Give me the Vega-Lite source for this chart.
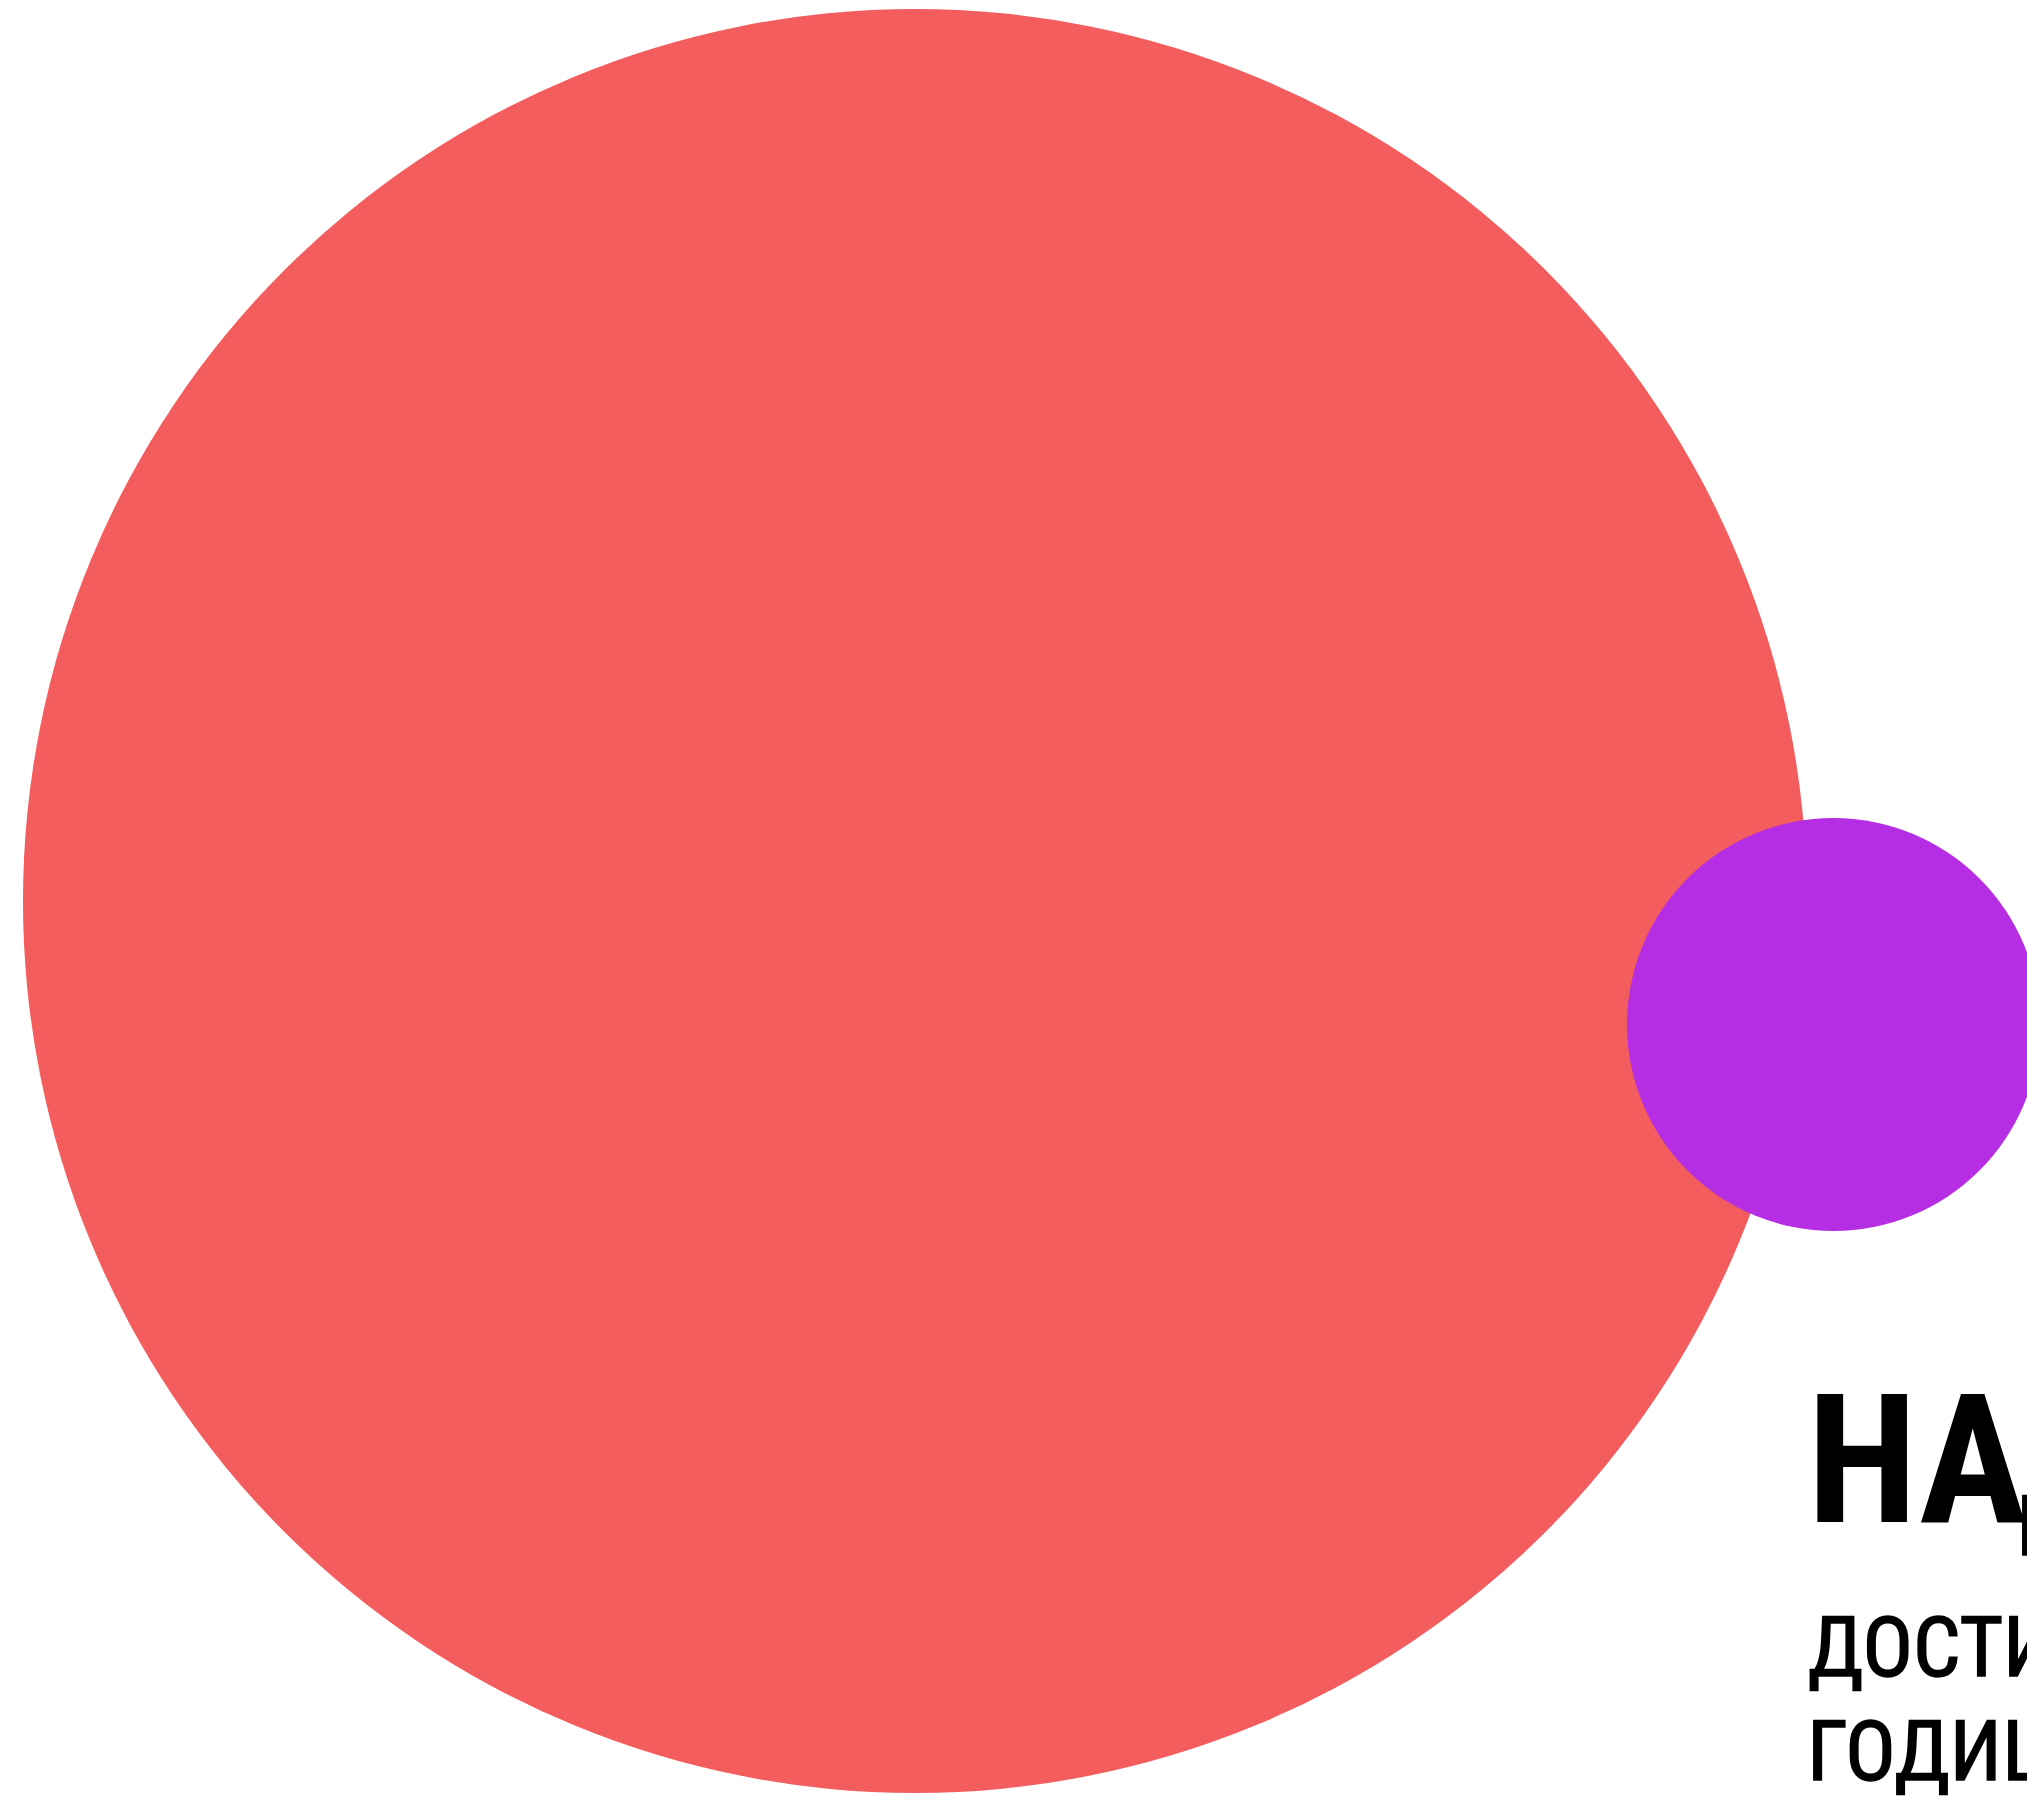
{
  "$schema": "https://vega.github.io/schema/vega-lite/v6.json",
  "width": 2027,
  "height": 1796,
  "padding": 0,
  "autosize": "none",
  "background": "white",
  "config": {"view": {"stroke": null}},
  "datasets": {
    "bubbles": [
      {"name": "A", "x": 915, "y": 901, "value": 1000},
      {"name": "B", "x": 1833.5, "y": 1024.5, "value": 53.6}
    ],
    "heads": [
      {"label": "НА", "x": 1807, "y": 1522}
    ],
    "lines": [
      {"label": "П", "x": 2016, "y": 1555},
      {"label": "ДОСТИГА", "x": 1808, "y": 1676},
      {"label": "ГОДИШНО", "x": 1807, "y": 1780}
    ]
  },
  "layer": [
    {
      "data": {"name": "bubbles"},
      "mark": {"type": "circle", "opacity": 1, "clip": true},
      "encoding": {
        "x": {"field": "x", "type": "quantitative", "scale": {"domain": [0, 2027], "nice": false, "zero": false}, "axis": null},
        "y": {"field": "y", "type": "quantitative", "scale": {"domain": [1796, 0], "nice": false, "zero": false}, "axis": null},
        "size": {"field": "value", "type": "quantitative", "scale": {"domain": [0, 1000], "range": [0, 3182656], "zero": true}, "legend": null},
        "color": {"field": "name", "type": "nominal", "scale": {"domain": ["A", "B"], "range": ["#f45d5d", "#b62ee3"]}, "legend": null}
      }
    },
    {
      "data": {"name": "heads"},
      "mark": {"type": "text", "align": "left", "baseline": "alphabetic", "font": "Roboto Condensed, DejaVu Sans Condensed, sans-serif", "fontWeight": "bold", "fontSize": 180, "color": "#000000", "clip": true},
      "encoding": {
        "x": {"field": "x", "type": "quantitative"},
        "y": {"field": "y", "type": "quantitative"},
        "text": {"field": "label"}
      }
    },
    {
      "data": {"name": "lines"},
      "mark": {"type": "text", "align": "left", "baseline": "alphabetic", "font": "Roboto Condensed, DejaVu Sans Condensed, sans-serif", "fontWeight": "normal", "fontSize": 84, "color": "#000000", "stroke": "#000000", "strokeWidth": 1.5, "clip": true},
      "encoding": {
        "x": {"field": "x", "type": "quantitative"},
        "y": {"field": "y", "type": "quantitative"},
        "text": {"field": "label"}
      }
    }
  ]
}
